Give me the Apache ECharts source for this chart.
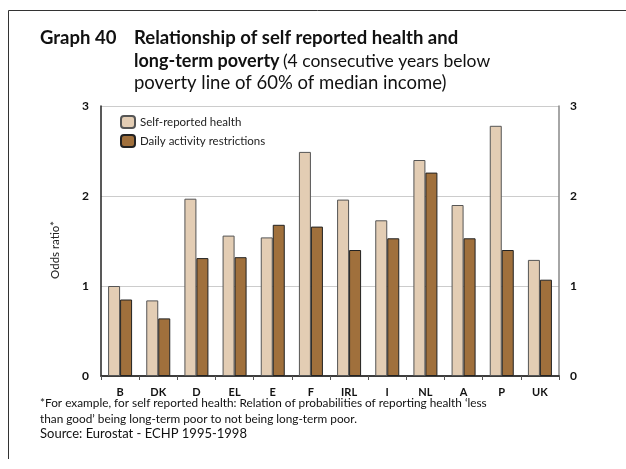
<!DOCTYPE html>
<html><head><meta charset="utf-8">
<script src="https://cdn.jsdelivr.net/npm/echarts@6/dist/echarts.min.js"></script>
<style>html,body{margin:0;padding:0;background:#fff}#c{width:626px;height:469px}</style>
</head><body><div id="c"></div>
<script>
const categories = ['B','DK','D','EL','E','F','IRL','I','NL','A','P','UK'];
const selfReported = [1.00,0.84,1.97,1.56,1.54,2.49,1.96,1.73,2.40,1.90,2.78,1.29];
const dailyActivity = [0.85,0.64,1.31,1.32,1.68,1.66,1.40,1.53,2.26,1.53,1.40,1.07];
const yTicks = [0,1,2,3];
const seriesNames = ['Self-reported health','Daily activity restrictions'];

const FONT = 'Lato, "Open Sans", sans-serif';
const chart = echarts.init(document.getElementById('c'), null, {renderer:'canvas'});
const yAxisBase = {
  type:'value', min:yTicks[0], max:yTicks[yTicks.length-1], interval:1,
  axisLabel:{fontFamily:FONT, fontWeight:'bold', fontSize:12, color:'#111'},
  axisTick:{show:false}
};
chart.setOption({
  animation:false,
  textStyle:{fontFamily:FONT},
  grid:{left:101, right:67, top:106, bottom:93},
  legend:{
    orient:'vertical', left:115, top:110, itemWidth:14, itemHeight:12, itemGap:5,
    textStyle:{fontFamily:FONT, fontSize:11.5, color:'#222'},
    data:seriesNames
  },
  xAxis:[{
    type:'category', data:categories, position:'bottom',
    axisLine:{lineStyle:{color:'#777', width:1.5}},
    axisTick:{show:true, length:4, lineStyle:{color:'#555'}},
    axisLabel:{fontFamily:FONT, fontWeight:'bold', fontSize:11, color:'#111', margin:11}
  },{
    type:'category', data:categories, position:'top',
    axisLine:{lineStyle:{color:'#222', width:1.5}},
    axisTick:{show:false}, axisLabel:{show:false}
  }],
  yAxis:[Object.assign({}, yAxisBase, {
    position:'left',
    axisLine:{show:true, lineStyle:{color:'#222', width:1.5}},
    axisLabel:Object.assign({}, yAxisBase.axisLabel, {margin:12}),
    splitLine:{show:true, lineStyle:{color:'#ccc', width:1}}
  }), Object.assign({}, yAxisBase, {
    position:'right',
    axisLine:{show:true, lineStyle:{color:'#888', width:1.5}},
    axisLabel:Object.assign({}, yAxisBase.axisLabel, {margin:11}),
    splitLine:{show:false}
  })],
  series:[{
    name:seriesNames[0], type:'bar', data:selfReported, barWidth:12, barGap:'0%',
    itemStyle:{color:'#E3CDB4', borderColor:'#555', borderWidth:1}
  },{
    name:seriesNames[1], type:'bar', data:dailyActivity, barWidth:12, barGap:'0%',
    itemStyle:{color:'#A0703C', borderColor:'#222', borderWidth:1}
  }],
  graphic:[
    {type:'line', shape:{x1:8.5,y1:10.5,x2:626,y2:10.5}, style:{stroke:'#333', lineWidth:1}},
    {type:'line', shape:{x1:8.5,y1:10.5,x2:8.5,y2:459}, style:{stroke:'#333', lineWidth:1}},
    {type:'text', left:40, top:29, style:{text:'Graph 40', font:'bold 18.5px '+FONT, fill:'#111'}},
    {type:'text', left:134, top:29, style:{text:'Relationship of self reported health and', font:'bold 18.5px '+FONT, fill:'#111'}},
    {type:'text', left:134, top:52, style:{
      text:'{b|long-term poverty} {n|(4 consecutive years below}',
      rich:{b:{font:'bold 18px '+FONT, fill:'#111'}, n:{font:'17.5px '+FONT, fill:'#111'}}
    }},
    {type:'text', left:134, top:74, style:{text:'poverty line of 60% of median income)', font:'18.5px '+FONT, fill:'#111'}},
    {type:'text', x:55, y:250, rotation:Math.PI/2, style:{text:'Odds ratio*', font:'11.5px '+FONT, fill:'#222', align:'center', verticalAlign:'middle'}},
    {type:'text', left:40, top:397, style:{text:'*For example, for self reported health: Relation of probabilities of reporting health \u2018less', font:'11.8px '+FONT, fill:'#111'}},
    {type:'text', left:40, top:413, style:{text:'than good\u2019 being long-term poor to not being long-term poor.', font:'11.8px '+FONT, fill:'#111'}},
    {type:'text', left:40, top:427, style:{text:'Source: Eurostat - ECHP 1995-1998', font:'13px '+FONT, fill:'#111'}}
  ]
});
</script></body></html>
